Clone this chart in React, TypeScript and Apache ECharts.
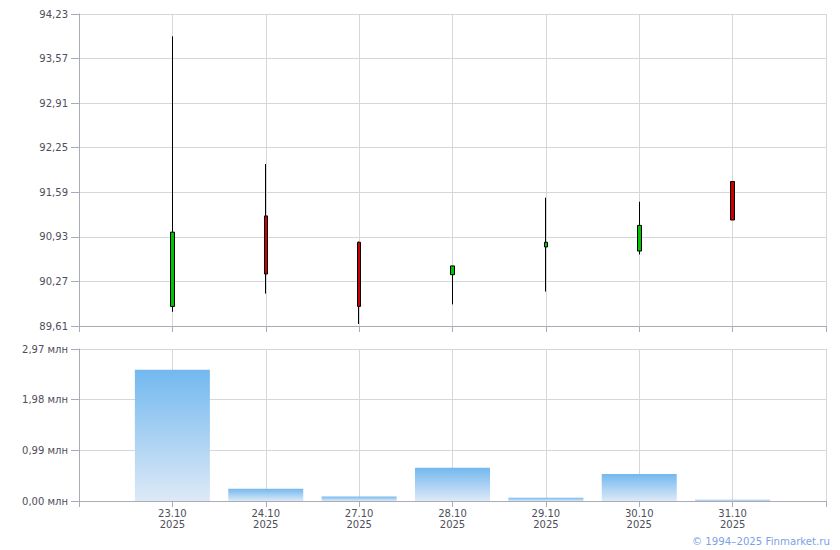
import React, { useEffect, useRef } from "react";
import * as echarts from "echarts";

// Dates (day.month) and year
const dates = ["23.10", "24.10", "27.10", "28.10", "29.10", "30.10", "31.10"];
const year = "2025";

// OHLC values
const opens = [89.90, 91.24, 90.85, 90.37, 90.78, 90.72, 91.75];
const closes = [91.00, 90.38, 89.90, 90.50, 90.85, 91.10, 91.18];
const lows = [89.82, 90.09, 89.64, 89.93, 90.12, 90.67, 91.18];
const highs = [93.90, 92.01, 90.86, 90.50, 91.51, 91.45, 91.75];

// Volumes, millions
const volumes = [2.565, 0.24, 0.09, 0.65, 0.065, 0.53, 0.025];

// Price axis
const PRICE_MIN = 89.61;
const PRICE_MAX = 94.23;
const PRICE_STEP = 0.66;

// Volume axis
const VOL_MAX = 2.97;
const VOL_STEP = 0.99;

const LABEL_COLOR = "#4e4e5a";
const AXIS_COLOR = "#a9abb7";
const GRID_COLOR = "#d3d8dc";
const FONT = "DejaVu Sans, Verdana, sans-serif";

export default function App() {
  const ref = useRef<HTMLDivElement>(null);

  useEffect(() => {
    if (!ref.current) return;
    const chart = echarts.init(ref.current, null, { renderer: "svg" });

    const categories = ["", ...dates, ""];
    const candleData = dates.map((_, i) => [
      i + 1,
      +(opens[i] - PRICE_MIN).toFixed(4),
      +(closes[i] - PRICE_MIN).toFixed(4),
      +(lows[i] - PRICE_MIN).toFixed(4),
      +(highs[i] - PRICE_MIN).toFixed(4),
    ]);
    const volData = dates.map((_, i) => [i + 1, volumes[i]]);

    const fmtNum = (v: number) => v.toFixed(2).replace(".", ",");

    const commonX = {
      type: "category" as const,
      data: categories,
      boundaryGap: false,
      axisLine: { show: true, lineStyle: { color: AXIS_COLOR, width: 1 } },
      axisTick: { show: true, length: 6, lineStyle: { color: AXIS_COLOR } },
      splitLine: { show: true, lineStyle: { color: GRID_COLOR, width: 1 } },
    };

    chart.setOption({
      animation: false,
      backgroundColor: "#ffffff",
      textStyle: { fontFamily: FONT },
      grid: [
        { left: 79, right: 14, top: 14, height: 312, containLabel: false },
        { left: 79, right: 14, top: 349, height: 152, containLabel: false },
      ],
      xAxis: [
        {
          ...commonX,
          gridIndex: 0,
          axisLabel: { show: false },
        },
        {
          ...commonX,
          gridIndex: 1,
          axisLabel: {
            show: true,
            interval: 0,
            color: LABEL_COLOR,
            fontSize: 10,
            fontFamily: FONT,
            lineHeight: 11,
            margin: 7,
            formatter: (v: string) => (v ? `${v}\n${year}` : ""),
          },
        },
      ],
      yAxis: [
        {
          type: "value",
          gridIndex: 0,
          min: 0,
          max: +(PRICE_MAX - PRICE_MIN).toFixed(4),
          interval: PRICE_STEP,
          axisLine: { show: true, lineStyle: { color: AXIS_COLOR } },
          axisTick: { show: true, length: 8, lineStyle: { color: AXIS_COLOR } },
          splitLine: { show: true, lineStyle: { color: GRID_COLOR } },
          axisLabel: {
            color: LABEL_COLOR,
            fontSize: 10,
            fontFamily: FONT,
            margin: 11,
            formatter: (v: number) => fmtNum(v + PRICE_MIN),
          },
        },
        {
          type: "value",
          gridIndex: 1,
          min: 0,
          max: VOL_MAX,
          interval: VOL_STEP,
          axisLine: { show: true, lineStyle: { color: AXIS_COLOR } },
          axisTick: { show: true, length: 8, lineStyle: { color: AXIS_COLOR } },
          splitLine: { show: true, lineStyle: { color: GRID_COLOR } },
          axisLabel: {
            color: LABEL_COLOR,
            fontSize: 10,
            fontFamily: FONT,
            margin: 11,
            formatter: (v: number) => `${fmtNum(v)} млн`,
          },
        },
      ],
      series: [
        {
          type: "candlestick",
          xAxisIndex: 0,
          yAxisIndex: 0,
          barWidth: 4,
          encode: { x: 0, y: [1, 2, 3, 4] },
          data: candleData,
          itemStyle: {
            color: "#00c400",
            color0: "#cc0000",
            borderColor: "#000000",
            borderColor0: "#000000",
            borderWidth: 1,
          },
        },
        {
          type: "bar",
          xAxisIndex: 1,
          yAxisIndex: 1,
          barWidth: 75,
          data: volData,
          itemStyle: {
            color: new echarts.graphic.LinearGradient(0, 0, 0, 1, [
              { offset: 0, color: "#72b8ef" },
              { offset: 1, color: "#dde9f6" },
            ]),
          },
        },
      ],
      graphic: [
        {
          type: "text",
          right: 10,
          top: 536,
          style: {
            text: "© 1994–2025 Finmarket.ru",
            fill: "#7e9fe6",
            fontSize: 10.2,
            fontFamily: FONT,
          },
        },
      ],
    });

    return () => chart.dispose();
  }, []);

  return (
    <div
      ref={ref}
      style={{ position: "fixed", left: 0, top: 0, width: 840, height: 550 }}
    />
  );
}
